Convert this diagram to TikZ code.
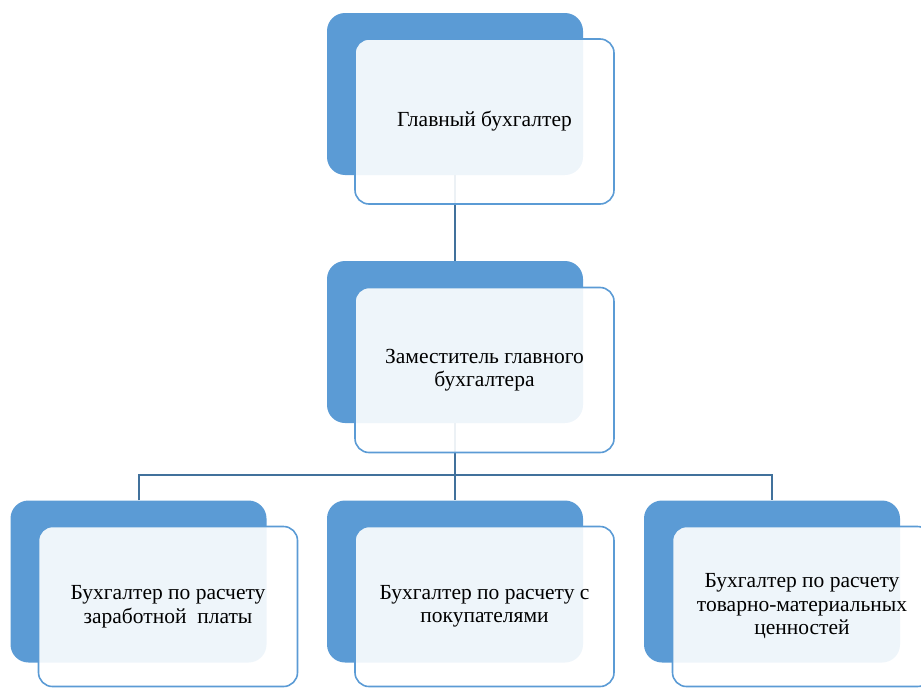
\documentclass[tikz,border=0pt]{standalone}
\usepackage{fontspec}
\setmainfont{Liberation Serif}
\usetikzlibrary{positioning}

\definecolor{cardblue}{HTML}{5B9BD5}
\definecolor{linkblue}{HTML}{41719C}

\tikzset{
  backbox/.style={rectangle, rounded corners=18pt, fill=cardblue, inner sep=0pt,
    minimum width=256pt, minimum height=162pt},
  frontbox/.style={rectangle, rounded corners=14pt, draw=cardblue, line width=1.6pt,
    fill=white, fill opacity=0.9, text opacity=1, inner sep=0pt,
    minimum width=259pt, minimum height=165pt, align=center,
    font=\fontsize{21.5}{23.5}\selectfont},
  link/.style={draw=linkblue, line width=2pt}
}

\begin{document}
\begin{tikzpicture}[x=1pt,y=-1pt]
  \useasboundingbox (0,0) rectangle (921,688);
  \clip (0,0) rectangle (921,688);
  % back cards
  \node[backbox] (chiefback) at (455,94) {};
  \node[backbox] (deputyback) at (455,342) {};
  \node[backbox] (payback) at (138.5,581.5) {};
  \node[backbox] (buyerback) at (455,581.5) {};
  \node[backbox] (goodsback) at (772,581.5) {};
  % connectors
  \coordinate (fork) at (455,475);
  \draw[link] (chiefback.south) -- (deputyback.north);
  \draw[link] (deputyback.south) -- (fork);
  \draw[link] (payback.north) |- (fork) -| (goodsback.north);
  \draw[link] (fork) -- (buyerback.north);
  % front cards
  \node[frontbox] (chief) at (484.5,121.5) {Главный бухгалтер};
  \node[frontbox] (deputy) at (484.5,370) {Заместитель главного\\бухгалтера};
  \node[frontbox, minimum height=160pt] (pay) at (168,606.5) {Бухгалтер по расчету\\заработной\ \ платы};
  \node[frontbox, minimum height=160pt] (buyer) at (484.5,606.5) {Бухгалтер по расчету с\\покупателями};
  \node[frontbox, minimum height=160pt] (goods) at (802,606.5) {Бухгалтер по расчету\\товарно-материальных\\ценностей};
\end{tikzpicture}
\end{document}
